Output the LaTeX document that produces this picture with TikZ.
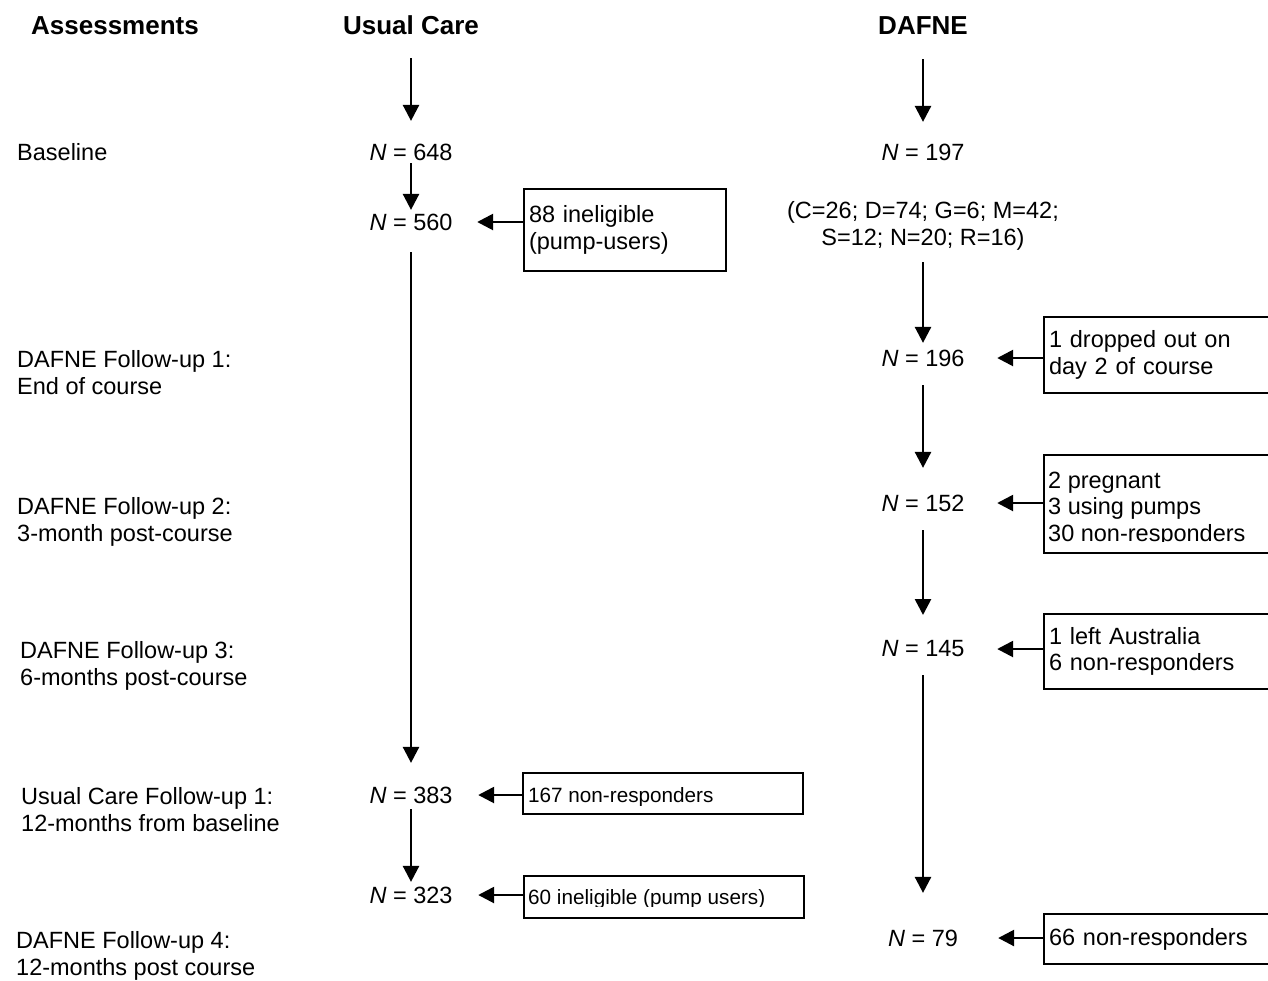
\documentclass[tikz,border=0pt]{standalone}
\usepackage{fontspec}
\setmainfont{Liberation Sans}
\usetikzlibrary{arrows.meta,positioning,calc}
\tikzset{txt/.style={font=\fontsize{23.5}{26.5}\selectfont,inner sep=0pt},
  small/.style={font=\fontsize{20.7}{24}\selectfont},
  lbl/.style={txt,align=left,anchor=base west},
  head/.style={font=\fontsize{26}{30}\selectfont\bfseries,inner sep=0pt,anchor=base},
  cnt/.style={txt,anchor=center},
  note/.style={txt,draw,line width=2pt,anchor=north west,align=left,
  inner xsep=5pt,inner ysep=0pt},
  flow/.style={-{Triangle[length=16pt,width=16pt]},line width=2.6pt}}
\newcommand{\nval}[1]{\textit{N} = #1}

\begin{document}
\begin{tikzpicture}[x=1pt,y=-1pt]
\useasboundingbox (0,0) rectangle (1268,980);
\clip (0,0) rectangle (1268,980);
\node[head] (hA) at (115,34) {Assessments};
\node[head] (hU) at (411,34) {Usual Care};
\node[head] (hD) at (923,34) {DAFNE};
\node[lbl] (l0) at (17,160) {Baseline};
\node[lbl] (l1) at (17,394) {DAFNE Follow-up 1:\\End of course};
\node[lbl] (l2) at (17,541) {DAFNE Follow-up 2:\\3-month post-course};
\node[lbl] (l3) at (20,685) {DAFNE Follow-up 3:\\6-months post-course};
\node[lbl] (l4) at (21,831) {Usual Care Follow-up 1:\\12-months from baseline};
\node[lbl] (l5) at (16,975) {DAFNE Follow-up 4:\\12-months post course};
\node[cnt] (n648) at (411,152) {\nval{648}};
\node[cnt] (n560) at (411,222) {\nval{560}};
\node[cnt] (n383) at (411,795) {\nval{383}};
\node[cnt] (n323) at (411,895) {\nval{323}};
\node[cnt] (n197) at (923,152) {\nval{197}};
\node[txt,align=center,anchor=base] (cats) at (923,245) {(C=26; D=74; G=6; M=42;\\S=12; N=20; R=16)};
\node[cnt] (n196) at (923,358) {\nval{196}};
\node[cnt] (n152) at (923,503) {\nval{152}};
\node[cnt] (n145) at (923,649) {\nval{145}};
\node[cnt] (n79) at (923,938) {\nval{79}};
\node[note,text width=192pt,minimum height=82pt] (b88) at (523,188) {88 ineligible\\(pump-users)};
\node[note,text width=250pt,minimum height=76pt] (b196) at (1043,316) {1 dropped out on\\day 2 of course};
\node[note,text width=250pt,minimum height=98pt] (b152) at (1043,454) {};
\begin{scope}
\clip (1043,454) rectangle (1268,541);
\node[lbl] (t152) at (1048,541) {2 pregnant\\3 using pumps\\30 non-responders};
\end{scope}
\node[note,text width=250pt,minimum height=75pt] (b145) at (1043,613) {1 left Australia\\6 non-responders};
\node[note,text width=250pt,minimum height=50pt] (b79) at (1043,913) {66 non-responders};
\node[note,text width=270pt,minimum height=41pt] (b383) at (522,772) {};
\begin{scope}
\clip (522,772) rectangle (802,805);
\node[lbl,small] (t383) at (528,802) {167 non-responders};
\end{scope}
\node[note,text width=270pt,minimum height=42pt] (b323) at (523,875) {};
\begin{scope}
\clip (523,875) rectangle (803,906);
\node[lbl,small] (t323) at (528,904) {60 ineligible (pump users)};
\end{scope}
\draw[flow,shorten <=24pt,shorten >=22.6pt] (hU.south) -- (n648.north);
\draw[flow,shorten <=2.6pt,shorten >=3.6pt] (n648.south) -- (n560.north);
\draw[flow,shorten <=21.6pt,shorten >=23.6pt] (n560.south) -- (n383.north);
\draw[flow,shorten <=5.6pt,shorten >=4.6pt] (n383.south) -- (n323.north);
\draw[flow,shorten <=25pt,shorten >=21.6pt] (hD.south) -- (n197.north);
\draw[flow,shorten <=12pt,shorten >=6.6pt] (cats.south) -- (n196.north);
\draw[flow,shorten <=18.6pt,shorten >=26.6pt] (n196.south) -- (n152.north);
\draw[flow,shorten <=18.6pt,shorten >=25.6pt] (n152.south) -- (n145.north);
\draw[flow,shorten <=17.6pt,shorten >=36.6pt] (n145.south) -- (n79.north);
\draw[flow,shorten >=24.5pt] (b88.west |- n560) -- (n560.east);
\draw[flow,shorten >=32.5pt] (b196.west |- n196) -- (n196.east);
\draw[flow,shorten >=32.5pt] (b152.west |- n152) -- (n152.east);
\draw[flow,shorten >=32.5pt] (b145.west |- n145) -- (n145.east);
\draw[flow,shorten >=40pt] (b79.west |- n79) -- (n79.east);
\draw[flow,shorten >=25.5pt] (b383.west |- n383) -- (n383.east);
\draw[flow,shorten >=25.5pt] (b323.west |- n323) -- (n323.east);
\end{tikzpicture}
\end{document}
